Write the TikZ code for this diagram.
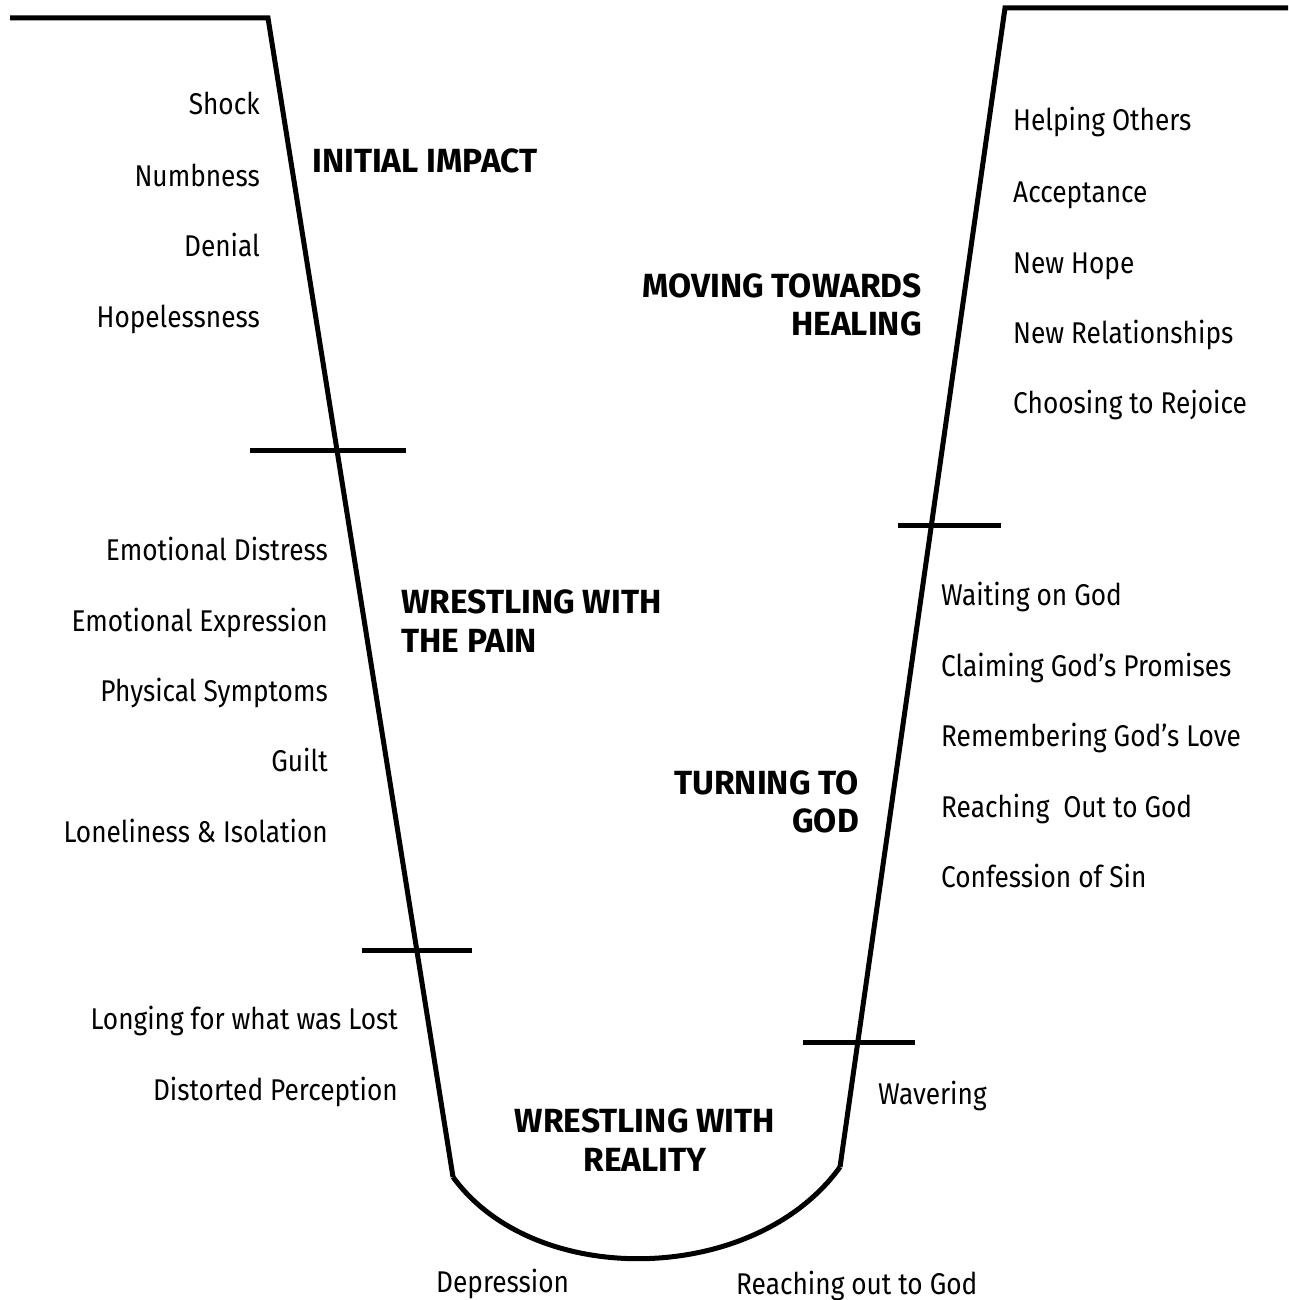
\documentclass[tikz,border=0pt]{standalone}
\usepackage{fontspec}
\setmainfont{Fira Sans}[FakeStretch=0.875, BoldFeatures={FakeStretch=1.0}]
\begin{document}
\begin{tikzpicture}[x=1pt,y={(0pt,-1pt)},
  curve/.style={line width=5pt, line join=miter},
  tick/.style={line width=5pt},
  lbl/.style={inner sep=0pt, font=\fontsize{30}{36}\selectfont},
  lbll/.style={lbl, anchor=base east},
  lblr/.style={lbl, anchor=base west},
  head/.style={inner sep=0pt, font=\fontsize{33.5}{38.5}\selectfont\bfseries}]
\useasboundingbox[fill=white] (0,0) rectangle (1288,1300);
% funnel
\coordinate (ltop) at (10,18);
\coordinate (lcorner) at (268,18);
\coordinate (lbot) at (453,1177);
\coordinate (rbot) at (840,1167);
\coordinate (rcorner) at (1005,8);
\coordinate (rtop) at (1288,8);
\draw[curve] (ltop) -- (lcorner) -- (lbot);
\draw[curve] (lbot) .. controls (535,1290) and (755,1285) .. (rbot);
\draw[curve] (rbot) -- (rcorner) -- (rtop);
% ticks
\coordinate (t1a) at (250,450); \coordinate (t1b) at (406,450);
\coordinate (t2a) at (362,950); \coordinate (t2b) at (472,950);
\coordinate (t3a) at (898,525); \coordinate (t3b) at (1001,525);
\coordinate (t4a) at (803,1042); \coordinate (t4b) at (915,1042);
\draw[tick] (t1a) -- (t1b);
\draw[tick] (t2a) -- (t2b);
\draw[tick] (t3a) -- (t3b);
\draw[tick] (t4a) -- (t4b);
% left labels
\node[lbll] (shock) at (260,115) {Shock};
\node[lbll] (numb) at (260,186) {Numbness};
\node[lbll] (denial) at (260,256) {Denial};
\node[lbll] (hopeless) at (260,327) {Hopelessness};
\node[lbll] (edist) at (328,560) {Emotional Distress};
\node[lbll] (eexp) at (328,631) {Emotional Expression};
\node[lbll] (phys) at (328,701) {Physical Symptoms};
\node[lbll] (guilt) at (328,771) {Guilt};
\node[lbll] (lonely) at (328,842) {Loneliness \& Isolation};
\node[lbll] (longing) at (398,1029) {Longing for what was Lost};
\node[lbll] (distort) at (398,1100) {Distorted Perception};
% right labels
\node[lblr] (helping) at (1013,131) {Helping Others};
\node[lblr] (accept) at (1013,202) {Acceptance};
\node[lblr] (newhope) at (1013,273) {New Hope};
\node[lblr] (newrel) at (1013,343) {New Relationships};
\node[lblr] (rejoice) at (1013,413) {Choosing to Rejoice};
\node[lblr] (waiting) at (941,605) {Waiting on God};
\node[lblr] (claiming) at (941,676) {Claiming God’s Promises};
\node[lblr] (remember) at (941,746) {Remembering God’s Love};
\node[lblr] (reachOut) at (941,817) {Reaching\ \ Out to God};
\node[lblr] (confess) at (941,887) {Confession of Sin};
\node[lblr] (waver) at (878,1104) {Wavering};
\node[lblr] (depress) at (436,1292) {Depression};
\node[lblr] (reachout) at (736,1294) {Reaching out to God};
% headings
\node[head, anchor=base west] (impact) at (312,172) {INITIAL IMPACT};
\node[head, anchor=east, align=right] (healing) at (922,305) {MOVING TOWARDS\\HEALING};
\node[head, anchor=west, align=left] (pain) at (401,621) {WRESTLING WITH\\THE PAIN};
\node[head, anchor=east, align=right] (turning) at (859,802) {TURNING TO\\GOD};
\node[head, anchor=center, align=center] (reality) at (645,1140) {WRESTLING WITH\\REALITY};
\end{tikzpicture}
\end{document}
